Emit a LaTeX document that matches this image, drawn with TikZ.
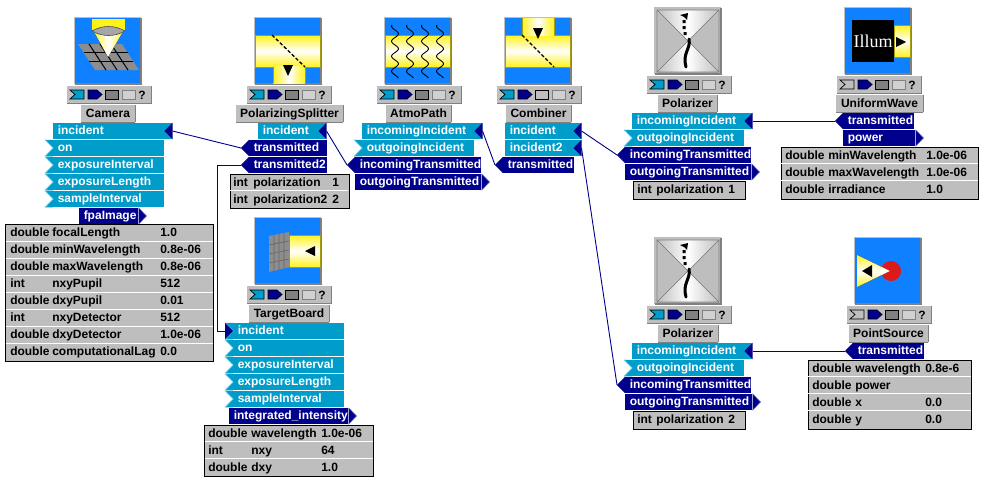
\documentclass[tikz,border=0pt]{standalone}
\usepackage{fontspec}
\setmainfont{Liberation Sans}
\newfontfamily\illumfont{Liberation Serif}
\definecolor{skyblue}{HTML}{0F80FF}
\definecolor{portteal}{HTML}{009CCA}
\definecolor{portnavy}{HTML}{00008C}
\definecolor{panelgrey}{HTML}{BEBEBE}
\definecolor{bevelgrey}{HTML}{808080}
\definecolor{beamyellow}{HTML}{FFF21A}
\definecolor{chevronblue}{HTML}{7FD4F0}
\tikzset{
  labelfont/.style={font=\bfseries\fontsize{12}{14}\selectfont},
  tealport/.style={labelfont, anchor=west, fill=portteal, text=white, inner xsep=4.5pt, inner ysep=0pt, minimum height=16pt, text height=9.5pt, text depth=2.5pt},
  navyport/.style={tealport, fill=portnavy},
  titlebox/.style={labelfont, fill=panelgrey, inner sep=0pt, minimum height=17pt, text height=9.5pt, text depth=2.5pt,
    append after command={(\tikzlastnode.south west) edge[bevelline] (\tikzlastnode.south east)
      (\tikzlastnode.south east) edge[bevelline] (\tikzlastnode.north east)}},
  bevelline/.style={draw=bevelgrey, line width=1pt},
  paramframe/.style={draw=black, fill=panelgrey, line width=1pt, anchor=north west, inner sep=0pt},
  paramtext/.style={labelfont, anchor=west, inner sep=0pt, text height=10pt, text depth=2pt},
  helpmark/.style={labelfont, inner sep=0pt},
  wire/.style={draw=portnavy, line width=0.9pt},
  beamrow/.style={top color=beamyellow, bottom color=beamyellow, middle color=white, draw=beamyellow!65!black, line width=0.5pt},
  beamcol/.style={left color=beamyellow, right color=beamyellow, middle color=white},
  beamedge/.style={draw=beamyellow!65!black, line width=0.5pt},
  gridmesh/.style={fill=bevelgrey!90!white},
  cutline/.style={draw=black, line width=1.3pt, dash pattern=on 3.5pt off 2pt}
}
\newcommand{\portnode}[6]{\node[#1, text width={(#4-#3-9)*1pt}] (#2) at (#3,#5) {#6};}
\newcommand{\linkport}[5]{%
  \portnode{tealport}{#1}{#2}{#3}{#4}{#5}
  \fill[portnavy] (#1.north east) -- ([xshift=-8pt]#1.east) -- (#1.south east) -- cycle;
  \coordinate (#1-tip) at (#1.east);}
\newcommand{\slotport}[5]{%
  \portnode{tealport}{#1}{#2}{#3}{#4}{#5}
  \fill[portteal] (#1.north west) -- ([xshift=-8pt]#1.north west) -- (#1.west) -- ([xshift=-8pt]#1.south west) -- (#1.south west) -- cycle;
  \draw[chevronblue, line width=0.8pt] ([xshift=-8pt]#1.north west) -- (#1.west) -- ([xshift=-8pt]#1.south west);
  \coordinate (#1-tip) at ([xshift=-8pt]#1.west);}
\newcommand{\hitport}[5]{%
  \slotport{#1}{#2}{#3}{#4}{#5}
  \fill[portnavy] ([xshift=-8pt]#1.north west) -- (#1.west) -- ([xshift=-8pt]#1.south west) -- cycle;}
\newcommand{\backport}[5]{%
  \portnode{navyport}{#1}{#2}{#3}{#4}{#5}
  \fill[portnavy] (#1.north west) -- ([xshift=-8pt]#1.west) -- (#1.south west) -- cycle;
  \coordinate (#1-tip) at ([xshift=-8pt]#1.west);}
\newcommand{\outport}[5]{%
  \portnode{navyport}{#1}{#2}{#3}{#4}{#5}
  \filldraw[fill=portnavy, draw=portnavy!60!white, line width=0.5pt] (#1.north east) -- ([xshift=8pt]#1.east) -- (#1.south east);
  \coordinate (#1-tip) at ([xshift=8pt]#1.east);}
\newcommand{\iconbase}[3]{%
  \fill[panelgrey] (#1-1,#2-1) rectangle (#1+66,#2+66);
  \fill[bevelgrey] (#1+65,#2) rectangle (#1+67,#2+67);
  \fill[bevelgrey] (#1,#2+65) rectangle (#1+67,#2+67);
  \fill[#3] (#1,#2) rectangle (#1+65,#2+65);}
\newcommand{\toolstrip}[5]{%
  \begin{scope}[shift={(#2,#3)}]
    \fill[panelgrey] (0,0) rectangle (84,17);
    \draw[bevelline] (0,17) -- (84,17) -- (84,0);
    \filldraw[fill=#4, draw=black, line width=0.7pt] (3,4) -- (17,4) -- (17,13) -- (3,13) -- (8,8.5) -- cycle;
    \filldraw[fill=portnavy, draw=black, line width=0.7pt] (21,4) -- (30,4) -- (35,8.5) -- (30,13) -- (21,13) -- cycle;
    \filldraw[fill=#5, draw=black, line width=0.7pt] (38,4) rectangle (51,13);
    \filldraw[fill=panelgrey!70!white, draw=bevelgrey, line width=0.7pt] (55,4) rectangle (68,13);
    \node[helpmark] (#1Help) at (75,9) {?};
  \end{scope}}
\newcommand{\polarizericon}[2]{%
  \iconbase{#1}{#2}{panelgrey}
  \begin{scope}[shift={(#1,#2)}]
    \fill[left color=panelgrey, right color=panelgrey, middle color=white] (2,2) -- (64,2) -- (33,33) -- cycle;
    \fill[left color=panelgrey, right color=panelgrey, middle color=white] (2,64) -- (64,64) -- (33,33) -- cycle;
    \draw[bevelgrey, line width=0.6pt] (2,2) rectangle (64,64) (2,2) -- (64,64) (64,2) -- (2,64);
    \draw[black, line width=3pt, line cap=round] (34,31) .. controls (36,41) and (27,45) .. (31,59);
    \fill[black] (28.5,24) rectangle (31.5,27) (27.5,18) rectangle (30.5,21) (27.5,12) rectangle (30.5,15);
    \fill[black] (25,7) -- (33,5) -- (32,12) -- (29,9) -- cycle;
  \end{scope}}
\newcommand{\paramtable}[9]{%
  \node[paramframe, minimum width={(#3-#2)*1pt}, minimum height={(#5-#4)*1pt}] (#1) at (#2,#4) {};
  \foreach \i/\ty/\nm/\vl in {#9}{
    \pgfmathsetmacro\rowy{#4+17*\i}
    \ifnum\i>0 \draw[white, line width=1pt] (#2+0.5,\rowy) -- (#3-0.5,\rowy); \fi
    \node[paramtext] (#1Type\i) at (#6,\rowy+8.5) {\ty};
    \node[paramtext] (#1Name\i) at (#7,\rowy+8.5) {\nm};
    \node[paramtext] (#1Value\i) at (#8,\rowy+8.5) {\vl};
  }}
\begin{document}
\begin{tikzpicture}[x=1pt, y=-1pt, line width=0.5pt]
  \useasboundingbox (0,0) rectangle (1001,485);

  \iconbase{75}{18}{skyblue}
  \fill[gridmesh] (78,44) -- (122,44) -- (139,70) -- (95,70) -- cycle;
  \foreach \t in {1,2,3} {
    \draw[black, line width=1pt] (78+11*\t,44) -- (95+11*\t,70);
  }
  \draw[black, line width=1pt] (83.5,52.5) -- (127.5,52.5) (89,61) -- (133,61);
  \fill[left color=beamyellow, right color=beamyellow, middle color=white] (92,28) -- (125,28) -- (108,57) -- cycle;
  \fill[beamyellow] (92,19) rectangle (125,30);
  \filldraw[fill=bevelgrey!70!white, draw=black!70, line width=0.6pt] (92,31) .. controls (102,25) and (115,25) .. (125,31) .. controls (115,37) and (102,37) .. (92,31) -- cycle;
  \toolstrip{cam}{67}{86}{portteal}{bevelgrey}
  \node[titlebox, minimum width=54pt] (camTitle) at (108,113.5) {Camera};
  \linkport{camIncident}{53}{172}{131}{incident}
  \slotport{camOn}{53}{164}{148}{on}
  \slotport{camExposureInterval}{53}{164}{165}{exposureInterval}
  \slotport{camExposureLength}{53}{164}{182}{exposureLength}
  \slotport{camSampleInterval}{53}{164}{199}{sampleInterval}
  \outport{camImage}{79}{138}{216}{fpaImage}
  \paramtable{camParams}{5}{213}{224}{361}{10}{52}{160}{0/double/focalLength/1.0, 1/double/minWavelength/0.8e-06, 2/double/maxWavelength/0.8e-06, 3/int/nxyPupil/512, 4/double/dxyPupil/0.01, 5/int/nxyDetector/512, 6/double/dxyDetector/1.0e-06, 7/double/computationalLag/0.0}

  \iconbase{255}{18}{skyblue}
  \filldraw[beamrow] (255,35) rectangle (320,67);
  \fill[beamcol] (273,66.5) rectangle (305,83);
  \draw[beamedge] (273,67) -- (273,83) (305,67) -- (305,83);
  \draw[cutline] (272,35) -- (305,67);
  \fill[black] (283,65) -- (293,65) -- (288,76) -- cycle;
  \toolstrip{split}{247}{86}{portteal}{bevelgrey}
  \node[titlebox, minimum width=107pt] (splitTitle) at (289.5,113.5) {PolarizingSplitter};
  \linkport{splitIncident}{258}{326}{131}{incident}
  \backport{splitTransmitted}{249}{327}{148}{transmitted}
  \backport{splitTransmittedB}{249}{327}{165}{transmitted2}
  \paramtable{splitParams}{229.5}{348.5}{173.5}{208}{233}{253}{332}{0/int/polarization/1, 1/int/polarization2/2}

  \iconbase{385}{18}{skyblue}
  \filldraw[beamrow] (385,35) rectangle (450,67);
  \foreach \wavex in {395,410,425,440} {
    \draw[black, line width=0.9pt, smooth] plot[domain=25:78, samples=40] ({\wavex+3.5*sin(\x*24)}, \x);
  }
  \toolstrip{atmo}{377}{86}{portteal}{bevelgrey}
  \node[titlebox, minimum width=65pt] (atmoTitle) at (418.5,113.5) {AtmoPath};
  \linkport{atmoInIncident}{362}{482}{131}{incomingIncident}
  \slotport{atmoOutIncident}{362}{474}{148}{outgoingIncident}
  \backport{atmoInTransmitted}{355}{481}{165}{incomingTransmitted}
  \outport{atmoOutTransmitted}{355}{481}{182}{outgoingTransmitted}

  \iconbase{505}{18}{skyblue}
  \filldraw[beamrow] (505,35) rectangle (570,67);
  \fill[beamcol] (522,18) rectangle (554,35.5);
  \draw[beamedge] (522,18) -- (522,35) (554,18) -- (554,35);
  \draw[cutline] (522,35) -- (554,67);
  \fill[black] (533,28) -- (543,28) -- (538,39) -- cycle;
  \toolstrip{comb}{497}{86}{portteal}{panelgrey}
  \node[titlebox, minimum width=65pt] (combTitle) at (538.5,113.5) {Combiner};
  \linkport{combIncident}{505}{581}{131}{incident}
  \linkport{combIncidentB}{505}{581}{148}{incident2}
  \backport{combTransmitted}{503}{574}{165}{transmitted}

  \polarizericon{655}{8}
  \toolstrip{polA}{647}{76}{portteal}{bevelgrey}
  \node[titlebox, minimum width=59pt] (polATitle) at (687.5,103.5) {Polarizer};
  \linkport{polAInIncident}{632}{752}{121}{incomingIncident}
  \slotport{polAOutIncident}{632}{744}{138}{outgoingIncident}
  \backport{polAInTransmitted}{625}{751}{155}{incomingTransmitted}
  \outport{polAOutTransmitted}{625}{751}{172}{outgoingTransmitted}
  \paramtable{polAParams}{632.5}{745}{180.5}{198.5}{637}{656}{728}{0/int/polarization/1}

  \iconbase{845}{8}{skyblue}
  \filldraw[beamrow] (894,25) rectangle (910,57);
  \fill[black] (852,20) rectangle (894,62);
  \node[text=white, inner sep=0pt] (waveIllum) at (873,41) {\illumfont\fontsize{18}{20}\selectfont Illum};
  \fill[black] (896,37) -- (906,42) -- (896,47) -- cycle;
  \toolstrip{wave}{837}{76}{panelgrey}{bevelgrey}
  \node[titlebox, minimum width=87pt] (waveTitle) at (879.5,103.5) {UniformWave};
  \backport{waveTransmitted}{843}{914}{121}{transmitted}
  \outport{wavePower}{843}{915}{138}{power}
  \paramtable{waveParams}{780.5}{978}{146.5}{198.5}{785}{828}{926}{0/double/minWavelength/1.0e-06, 1/double/maxWavelength/1.0e-06, 2/double/irradiance/1.0}

  \iconbase{255}{218}{skyblue}
  \filldraw[beamrow] (289,235) rectangle (320,267);
  \fill[gridmesh] (269,236) -- (289,232) -- (289,267) -- (269,272) -- cycle;
  \draw[black!60, line width=0.6pt] (274,235) -- (274,271) (279,234) -- (279,270) (284,233) -- (284,268)
    (269,245) -- (289,241) (269,254) -- (289,250) (269,263) -- (289,259);
  \fill[black] (305,251) -- (315,246) -- (315,256) -- cycle;
  \toolstrip{board}{247}{286}{portteal}{bevelgrey}
  \node[titlebox, minimum width=80pt] (boardTitle) at (289,313.5) {TargetBoard};
  \hitport{boardIncident}{233}{344}{331}{incident}
  \slotport{boardOn}{233}{344}{348}{on}
  \slotport{boardExposureInterval}{233}{344}{365}{exposureInterval}
  \slotport{boardExposureLength}{233}{344}{382}{exposureLength}
  \slotport{boardSampleInterval}{233}{344}{399}{sampleInterval}
  \outport{boardIntensity}{229}{348}{416}{integrated\_intensity}
  \paramtable{boardParams}{204}{373}{424.5}{476}{208}{251}{321}{0/double/wavelength/1.0e-06, 1/int/nxy/64, 2/double/dxy/1.0}

  \polarizericon{655}{238}
  \toolstrip{polB}{647}{306}{portteal}{bevelgrey}
  \node[titlebox, minimum width=60pt] (polBTitle) at (688,333.5) {Polarizer};
  \linkport{polBInIncident}{632}{752}{351}{incomingIncident}
  \slotport{polBOutIncident}{632}{744}{368}{outgoingIncident}
  \backport{polBInTransmitted}{625}{751}{385}{incomingTransmitted}
  \outport{polBOutTransmitted}{625}{752}{402}{outgoingTransmitted}
  \paramtable{polBParams}{632.5}{745}{410.5}{429}{637}{656}{728}{0/int/polarization/2}

  \iconbase{855}{238}{skyblue}
  \fill[red!85!black!90!white] (891,271) circle (10);
  \fill[top color=beamyellow, bottom color=beamyellow, middle color=white] (857,255) -- (890,271) -- (857,287) -- cycle;
  \fill[black] (862,271) -- (872,265) -- (872,277) -- cycle;
  \toolstrip{point}{847}{306}{panelgrey}{bevelgrey}
  \node[titlebox, minimum width=79pt] (pointTitle) at (888.5,333.5) {PointSource};
  \backport{pointTransmitted}{853}{924}{351}{transmitted}
  \paramtable{pointParams}{807.5}{971}{359.5}{429}{812}{855}{925}{0/double/wavelength/0.8e-6, 1/double/power/{}, 2/double/x/0.0, 3/double/y/0.0}

  \draw[wire] (camIncident-tip) -- (splitTransmitted-tip);
  \draw[wire] (splitTransmittedB-tip) -- ++(-24,0) |- (boardIncident-tip);
  \draw[wire] (splitIncident-tip) -- (atmoInTransmitted-tip);
  \draw[wire] (atmoInIncident-tip) -- (combTransmitted-tip);
  \draw[wire] (combIncident-tip) -- (polAInTransmitted-tip);
  \draw[wire] (combIncidentB-tip) -- (polBInTransmitted-tip);
  \draw[wire] (polAInIncident-tip) -- (waveTransmitted-tip);
  \draw[wire] (polBInIncident-tip) -- (pointTransmitted-tip);
\end{tikzpicture}
\end{document}
